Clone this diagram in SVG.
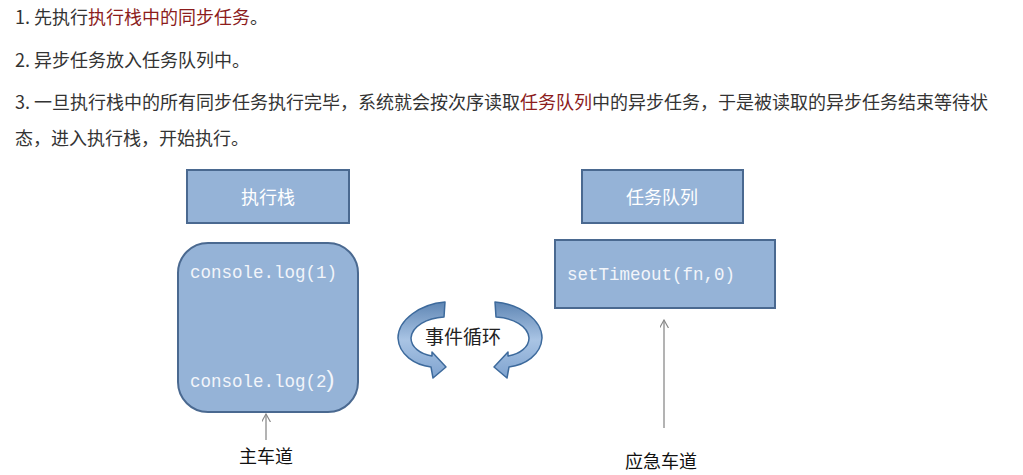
<svg xmlns="http://www.w3.org/2000/svg" width="1023" height="475" viewBox="0 0 1023 475">
<style>
.t{font-family:"Noto Sans CJK SC","Noto Sans",sans-serif;font-size:18px;fill:#333}
.r{fill:#8c1c1c}
.hdr{font-family:"Noto Sans CJK SC","Noto Sans",sans-serif;font-size:18px;fill:#ffffff;text-anchor:middle}
.code{font-family:"Liberation Mono","DejaVu Sans Mono",monospace;font-size:17.5px;fill:#f2f5fa}
.box{fill:#95b3d7;stroke:#4a6990;stroke-width:2}
.lbl{font-family:"Noto Sans CJK SC","Noto Sans",sans-serif;font-size:18px;fill:#111;text-anchor:middle}
.conn{stroke:#8a8a8a;stroke-width:1.3;fill:none}
.loop{fill:url(#g);stroke:#3d6a9c;stroke-width:1.5;stroke-linejoin:round}
</style>
<defs>
<linearGradient id="g" x1="0" y1="0" x2="0" y2="1">
<stop offset="0" stop-color="#5f86b4"/>
<stop offset="0.5" stop-color="#a9c4e4"/>
<stop offset="1" stop-color="#7fa3cf"/>
</linearGradient>
<marker id="ah" viewBox="0 0 10 10" refX="9" refY="5" markerWidth="9" markerHeight="9" orient="auto" markerUnits="userSpaceOnUse">
<path d="M0 0 L9 5 L0 10" fill="none" stroke="#8a8a8a" stroke-width="1.3"/>
</marker>
</defs>
<rect width="1023" height="475" fill="#ffffff"/>
<g id="notes">
<text class="t" x="15" y="24">1. 先执行<tspan class="r">执行栈中的同步任务</tspan>。</text>
<text class="t" x="15" y="67">2. 异步任务放入任务队列中。</text>
<text class="t" x="15" y="109">3. 一旦执行栈中的所有同步任务执行完毕，系统就会按次序读取<tspan class="r">任务队列</tspan>中的异步任务，于是被读取的异步任务结束等待状</text>
<text class="t" x="15" y="145">态，进入执行栈，开始执行。</text>
</g>
<g id="stack-title">
<rect class="box" x="187" y="170" width="162" height="53"/>
<text class="hdr" x="268" y="204">执行栈</text>
</g>
<g id="stack">
<rect class="box" x="178" y="243" width="180" height="169" rx="30" ry="30"/>
<text class="code" x="190" y="278">console.log(1)</text>
<text class="code" x="190" y="387">console.log(2<tspan font-family="Liberation Sans,sans-serif" font-size="24px">)</tspan></text>
</g>
<g id="queue-title">
<rect class="box" x="582" y="170" width="161" height="53"/>
<text class="hdr" x="662" y="204">任务队列</text>
</g>
<g id="queue">
<rect class="box" x="555" y="240" width="220" height="68"/>
<text class="code" x="567" y="280">setTimeout(fn,0)</text>
</g>
<g id="event-loop">
<path class="loop" d="M445 302 C420 304 398 320 398 338 C399 355 415 365 431 367 L433 378 L446 367 L432 352 L432 356 C420 354 411 347 411 338 C412 326 427 318 444 317 Z"/>
<path class="loop" d="M495 302 C520 304 542 320 542 338 C541 355 525 365 509 367 L507 378 L494 367 L508 352 L508 356 C520 354 529 347 529 338 C528 326 513 318 496 317 Z"/>
<text class="t" x="463" y="344" text-anchor="middle" style="fill:#222;font-size:19px">事件循环</text>
</g>
<g id="connectors">
<line class="conn" x1="266" y1="440" x2="266" y2="414" marker-end="url(#ah)"/>
<line class="conn" x1="664" y1="428" x2="664" y2="320" marker-end="url(#ah)"/>
</g>
<g id="labels">
<text class="lbl" x="266" y="463">主车道</text>
<text class="lbl" x="661" y="468">应急车道</text>
</g>
</svg>
